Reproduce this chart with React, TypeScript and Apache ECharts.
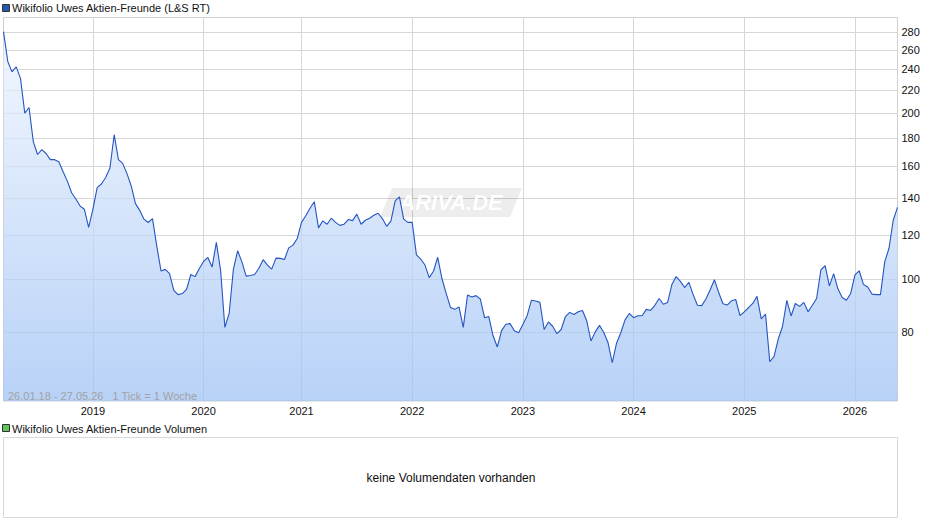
import React, { useEffect, useRef } from "react";
import * as echarts from "echarts";

// Weekly-ish closing values (every second week), per calendar year
const years = [2018, 2019, 2020, 2021, 2022, 2023, 2024, 2025, 2026];
const v2018 = [281, 248, 237.4, 242.4, 230.8, 199.8, 204.6, 177.4, 168.1, 171.6, 168.8, 164.5, 164.5, 163.1, 156.4, 150.4, 143.3, 139.6, 135.5, 133.7, 123.9];
const v2019 = [133.7, 146.4, 148.6, 152.7, 158.9, 182.6, 164.5, 162, 155.2, 147.4, 136.9, 133.1, 128.3, 126.5, 128.6, 114.7, 103.3, 104, 102.2, 95.3, 93.6, 94, 95.7, 101.8, 100.9, 104.4];
const v2020 = [107.5, 109.3, 105, 116.4, 103.6, 81.6, 86.5, 104, 112.4, 107.3, 101.1, 101.4, 101.8, 104.5, 108.3, 105.9, 104.1, 109, 108.9, 108.4, 113.8, 115.1, 118.3];
const v2021 = [126.6, 130.1, 134.3, 138, 123.7, 127.4, 125.6, 128.8, 126.6, 125, 125.6, 128.1, 127.5, 131, 125.6, 127.7, 128.8, 130.4, 131.5, 128.6, 124.5, 127.2, 138.5, 140.8, 128.3, 126.6];
const v2022 = [126.6, 110.5, 108.6, 105.9, 100.5, 103.2, 109.4, 100, 94, 88.7, 88, 88.9, 81.6, 93.4, 92.7, 93.2, 91.9, 85, 85.4, 78.8, 75.2, 80.5, 82.7, 82.9, 80.5, 79.8];
const v2023 = [82.6, 85.7, 91.4, 91.1, 90.6, 80.9, 83.5, 82, 79.5, 80.9, 85.4, 86.9, 86.1, 87.1, 87.6, 83.9, 77.1, 80.1, 82.3, 79.9, 76.6, 70.4, 76.4, 79.8, 84.2, 86.5];
const v2024 = [85, 85.7, 85.7, 88, 87.6, 89.5, 92.1, 89.9, 90.6, 97.6, 100.9, 98.9, 96.4, 98.5, 93.6, 89.5, 89.4, 91.9, 95.5, 99.6, 94.4, 90.1, 89.6, 91.2, 91.7, 85.7];
const v2025 = [87.1, 88.6, 90.2, 92.9, 84.6, 86.3, 70.7, 72.3, 77.8, 82, 91.4, 85.6, 90.2, 89.1, 90.6, 87.1, 89.5, 92.1, 103.8, 105.6, 97.1, 102.2, 95.9, 92.5, 91.4, 94];
const v2026 = [101.6, 103.4, 97.7, 96.6, 93.8, 93.6, 93.6, 107.3, 113.6, 127.7, 134.8];
const yearValues = [v2018, v2019, v2020, v2021, v2022, v2023, v2024, v2025, v2026];

const yTicks = [80, 100, 120, 140, 160, 180, 200, 220, 240, 260, 280];
const yMin = 60;
const yMax = 298;

const seriesName = "Wikifolio Uwes Aktien-Freunde (L&S RT)";
const volumeName = "Wikifolio Uwes Aktien-Freunde Volumen";
const volumeNote = "keine Volumendaten vorhanden";
const rangeNote = "26.01.18 - 27.05.26   1 Tick = 1 Woche";
const watermark = "ARIVA.DE";

const FONT = '"Liberation Sans", Arial, Helvetica, sans-serif';

export default function App() {
  const ref = useRef<HTMLDivElement>(null);

  useEffect(() => {
    if (!ref.current) return;
    const chart = echarts.init(ref.current, undefined, { renderer: "svg" });

    const categories: string[] = [];
    const values: number[] = [];
    years.forEach((y, yi) => {
      yearValues[yi].forEach((v, j) => {
        categories.push(`${y}-${j}`);
        values.push(Math.log(v));
      });
    });
    const isYearStart = (_i: number, val: string) =>
      val.endsWith("-0") && !val.startsWith(String(years[0]));

    const logTicks = yTicks.map((t) => Math.log(t));

    chart.setOption({
      animation: false,
      textStyle: { fontFamily: FONT },
      grid: {
        left: 3.5,
        top: 17.5,
        width: 894,
        height: 383.5,
        show: true,
        borderColor: "#d0d0d0",
        borderWidth: 1,
        backgroundColor: "transparent",
      },
      xAxis: {
        type: "category",
        data: categories,
        boundaryGap: false,
        axisLine: { show: false },
        axisTick: { show: false, interval: isYearStart },
        axisLabel: {
          interval: isYearStart,
          formatter: (v: string) => v.split("-")[0],
          color: "#111",
          fontSize: 11,
          fontFamily: FONT,
          margin: 4,
        },
        splitLine: {
          show: true,
          interval: isYearStart,
          lineStyle: { color: "#d6d6d6", width: 1 },
        },
      },
      yAxis: {
        type: "value",
        position: "right",
        min: Math.log(yMin),
        max: Math.log(yMax),
        axisLine: { show: false },
        axisTick: { show: false, customValues: logTicks },
        axisLabel: {
          customValues: logTicks,
          formatter: (v: number) => String(Math.round(Math.exp(v))),
          color: "#111",
          fontSize: 11,
          fontFamily: FONT,
          margin: 4,
        },
        splitLine: { show: true, lineStyle: { color: "#d6d6d6", width: 1 } },
      },
      series: [
        {
          type: "line",
          name: seriesName,
          data: values,
          symbol: "none",
          lineStyle: { color: "#2455c0", width: 1.1 },
          areaStyle: {
            opacity: 0.72,
            color: new echarts.graphic.LinearGradient(0, 0, 0, 1, [
              { offset: 0, color: "#eef4fe" },
              { offset: 1, color: "#9cc0f4" },
            ]),
          },
          z: 3,
        },
      ],
      graphic: [
        {
          type: "polygon",
          z: 1,
          shape: {
            points: [
              [392, 188],
              [522, 188],
              [510, 217],
              [380, 217],
            ],
          },
          style: { fill: "rgba(0,0,0,0.07)" },
        },
        {
          type: "text",
          z: 1,
          x: 451,
          y: 202,
          style: {
            text: watermark,
            fill: "#ffffff",
            stroke: "rgba(0,0,0,0.05)",
            lineWidth: 1,
            font: `italic bold 22px ${FONT}`,
            align: "center",
            verticalAlign: "middle",
          },
        },
        {
          type: "rect",
          shape: { x: 2.5, y: 4.5, width: 7, height: 7 },
          style: { fill: "#2457b8", stroke: "#333", lineWidth: 1 },
        },
        {
          type: "text",
          x: 12,
          y: 8,
          style: {
            text: seriesName,
            fill: "#111",
            font: `11px ${FONT}`,
            verticalAlign: "middle",
          },
        },
        {
          type: "text",
          x: 8,
          y: 395.5,
          z: 10,
          style: {
            text: rangeNote,
            fill: "#a2a2a2",
            font: `11px ${FONT}`,
            verticalAlign: "middle",
          },
        },
        {
          type: "rect",
          shape: { x: 2.5, y: 424.5, width: 7, height: 7 },
          style: { fill: "#5cc85c", stroke: "#333", lineWidth: 1 },
        },
        {
          type: "text",
          x: 12,
          y: 428.5,
          style: {
            text: volumeName,
            fill: "#111",
            font: `11px ${FONT}`,
            verticalAlign: "middle",
          },
        },
        {
          type: "rect",
          shape: { x: 3.5, y: 437.5, width: 894, height: 80 },
          style: { fill: "none", stroke: "#d8d8d8", lineWidth: 1 },
        },
        {
          type: "text",
          x: 451,
          y: 477.5,
          style: {
            text: volumeNote,
            fill: "#111",
            font: `12px ${FONT}`,
            align: "center",
            verticalAlign: "middle",
          },
        },
      ],
    });

    return () => chart.dispose();
  }, []);

  return (
    <div
      ref={ref}
      style={{ position: "absolute", left: 0, top: 0, width: 940, height: 526 }}
    />
  );
}
